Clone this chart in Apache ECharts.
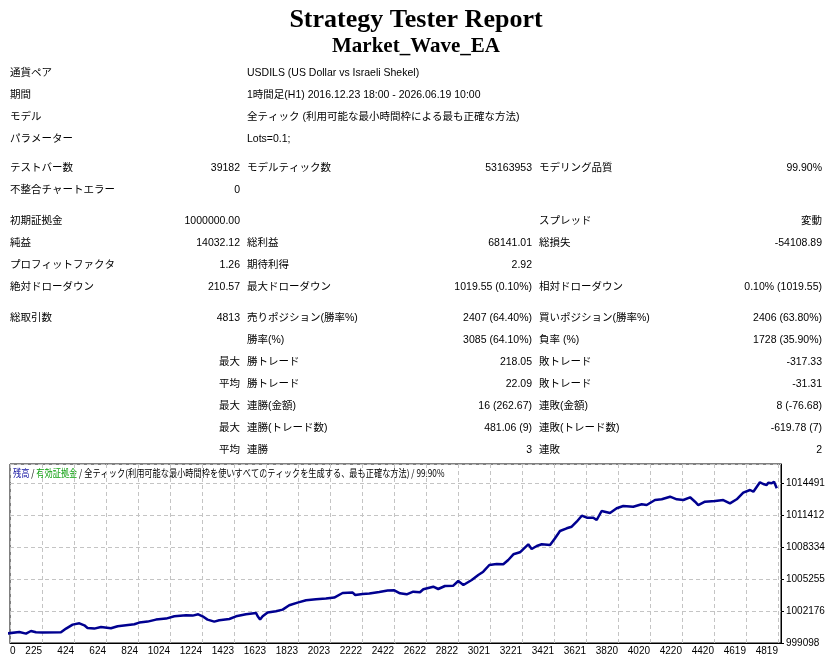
<!DOCTYPE html>
<html><head><meta charset="utf-8">
<script src="https://cdn.jsdelivr.net/npm/echarts@6/dist/echarts.min.js"></script>
<style>html,body{margin:0;padding:0;background:#fff}#c{width:832px;height:664px}</style>
</head><body><div id="c"></div>
<script>
// ---------- data ----------
const reportTitle = 'Strategy Tester Report';
const expertName = 'Market_Wave_EA';
const infoLabels = ['通貨ペア', '期間', 'モデル', 'パラメーター'];
const infoValues = ['USDILS (US Dollar vs Israeli Shekel)', '1時間足(H1) 2016.12.23 18:00 - 2026.06.19 10:00', '全ティック (利用可能な最小時間枠による最も正確な方法)', 'Lots=0.1;'];
const statRows = [
  ['テストバー数', '39182', 'モデルティック数', '53163953', 'モデリング品質', '99.90%'],
  ['不整合チャートエラー', '0', '', '', '', ''],
  ['初期証拠金', '1000000.00', '', '', 'スプレッド', '変動'],
  ['純益', '14032.12', '総利益', '68141.01', '総損失', '-54108.89'],
  ['プロフィットファクタ', '1.26', '期待利得', '2.92', '', ''],
  ['絶対ドローダウン', '210.57', '最大ドローダウン', '1019.55 (0.10%)', '相対ドローダウン', '0.10% (1019.55)'],
  ['総取引数', '4813', '売りポジション(勝率%)', '2407 (64.40%)', '買いポジション(勝率%)', '2406 (63.80%)'],
  ['', '', '勝率(%)', '3085 (64.10%)', '負率 (%)', '1728 (35.90%)'],
  ['', '最大', '勝トレード', '218.05', '敗トレード', '-317.33'],
  ['', '平均', '勝トレード', '22.09', '敗トレード', '-31.31'],
  ['', '最大', '連勝(金額)', '16 (262.67)', '連敗(金額)', '8 (-76.68)'],
  ['', '最大', '連勝(トレード数)', '481.06 (9)', '連敗(トレード数)', '-619.78 (7)'],
  ['', '平均', '連勝', '3', '連敗', '2']
];
const legendBalance = '残高';
const legendEquity = '有効証拠金';
const legendModel = '全ティック(利用可能な最小時間枠を使いすべてのティックを生成する、最も正確な方法)';
const legendQuality = '99.90%';
const xTickLabels = ['0','225','424','624','824','1024','1224','1423','1623','1823','2023','2222','2422','2622','2822','3021','3221','3421','3621','3820','4020','4220','4420','4619','4819'];
const yTickLabels = ['999098','1002176','1005255','1008334','1011412','1014491'];
const tradeNo = [0,83,125,156,187,228,343,375,416,458,489,509,551,593,655,697,749,801,832,884,936,999,1051,1124,1165,1200,1227,1258,1300,1331,1394,1436,1498,1561,1571,1586,1602,1633,1685,1727,1768,1820,1873,1935,1997,2007,2049,2101,2164,2180,2226,2268,2330,2382,2424,
  2459,2501,2542,2584,2605,2667,2698,2740,2792,2823,2855,2907,2948,2979,3017,3063,3104,3135,3167,3208,3260,3281,3313,3344,3396,3427,3458,3500,3531,3562,3594,3625,3666,3687,3718,3770,3812,3853,3915,3968,3999,4051,4093,4145,4187,4228,4270,4301,4321,4363,4426,4477,4519,4561,4602,4644,4665,4706,4727,4748,4758,4779,4794,4811,4813];
const balance = [1000000,1000156,1000002,1000253,1000128,1000099,1000128,1000484,1000868,1000993,1000801,1000541,1000484,1000637,1000512,1000705,1000801,1000897,1001061,1001157,1001349,1001445,1001667,1001763,1001734,1001859,1001667,1001349,1001157,1001282,1001407,1001667,1001859,1001984,1001667,1001349,1001667,1002023,1002148,1002311,1002725,1002985,1003206,1003302,1003370,1003206,1003466,1003908,1003947,1003716,1003812,1003851,1004005,1004139,1004168,
  1003879,1003783,1004033,1003976,1004264,1004514,1004293,1004582,1004611,1005063,1004678,1005159,1005640,1005958,1006602,1006698,1006669,1007083,1007631,1007824,1008594,1008141,1008430,1008594,1008526,1009171,1009873,1010133,1010287,1010768,1011345,1011153,1011153,1010931,1011797,1011605,1012057,1012278,1012211,1012442,1012374,1012855,1012923,1013173,1012923,1012855,1013115,1012692,1012374,1012692,1012759,1012855,1012538,1012923,1013558,1013818,1013654,1014559,1014395,1014299,1014520,1014462,1014616,1013981,1014032.12];

// ---------- axis scale (offsets so that min is a multiple of the interval) ----------
const X_ORIGIN = 25, X_STEP = 199.74;
const Y_ORIGIN = 999098.3, Y_STEP = 3078.6;

// ---------- layout / style ----------
const FONT = "'Liberation Sans', 'Noto Sans CJK JP', sans-serif";
const CJK = "'Noto Sans CJK JP', 'Liberation Sans', sans-serif";
const FS = 10.5;
function txt(x, y, s, align, extra) {
  const st = Object.assign({ x: x, y: y, text: s, fill: '#000', fontSize: FS, fontFamily: FONT,
    align: align, textAlign: align, verticalAlign: 'middle', textVerticalAlign: 'middle' }, extra || {});
  return { type: 'text', silent: true, style: st };
}
const graphics = [];
graphics.push(txt(416, 20, reportTitle, 'center', { fontSize: 26, fontWeight: 'bold', fontFamily: "'Liberation Serif', 'Times New Roman', serif" }));
graphics.push(txt(416, 47, expertName, 'center', { fontSize: 21, fontWeight: 'bold', fontFamily: "'Liberation Serif', 'Times New Roman', serif" }));
const infoY = [73, 95, 117, 139];
infoLabels.forEach((l, i) => { graphics.push(txt(10, infoY[i], l, 'left')); graphics.push(txt(247, infoY[i], infoValues[i], 'left')); });
const statY = [168, 190, 221, 243, 265, 287, 318, 340, 362, 384, 406, 428, 450];
const colX = [10, 240, 247, 532, 539, 822];
const colAlign = ['left', 'right', 'left', 'right', 'left', 'right'];
statRows.forEach((row, i) => {
  row.forEach((cell, j) => { if (cell) graphics.push(txt(colX[j], statY[i], cell, colAlign[j])); });
});
// chart caption (legend line)
graphics.push({ type: 'text', silent: true, x: 13, y: 473, scaleX: 0.82, scaleY: 1, style: {
  x: 0, y: 0, align: 'left', textAlign: 'left', verticalAlign: 'middle', textVerticalAlign: 'middle',
  text: '{b|' + legendBalance + '}{s| / }{g|' + legendEquity + '}{s| / ' + legendModel + ' / ' + legendQuality + '}',
  fontSize: 10, fontFamily: CJK, fill: '#000',
  rich: {
    b: { fill: '#1010a0', fontSize: 10, fontFamily: CJK },
    g: { fill: '#10a010', fontSize: 10, fontFamily: CJK },
    s: { fill: '#000', fontSize: 10, fontFamily: CJK }
  } } });

const seriesData = tradeNo.map((t, i) => [t - X_ORIGIN, balance[i] - Y_ORIGIN]);

const chart = echarts.init(document.getElementById('c'), null, { renderer: 'canvas' });
chart.setOption({
  animation: false,
  backgroundColor: '#fff',
  graphic: graphics,
  grid: { left: 10, top: 464, width: 771, height: 179, show: true, borderColor: '#000', borderWidth: 1, containLabel: false },
  xAxis: {
    type: 'value', min: 0, max: 4812.5, interval: X_STEP,
    axisLine: { show: true, onZero: false, lineStyle: { color: '#000', width: 1 } },
    axisTick: { show: false },
    splitLine: { show: true, lineStyle: { color: '#c4c4c4', type: [4, 3], width: 1 } },
    axisLabel: {
      color: '#000', fontSize: 10, fontFamily: FONT, margin: 3, align: 'right', alignMinLabel: 'left',
      showMaxLabel: false, hideOverlap: false,
      formatter: function (v) { const k = Math.round(v / X_STEP); return Math.abs(v - k * X_STEP) < 1 && xTickLabels[k] !== undefined ? xTickLabels[k] : ''; }
    }
  },
  yAxis: {
    type: 'value', position: 'right', min: 0, max: 17220.7, interval: Y_STEP,
    axisLine: { show: true, onZero: false, lineStyle: { color: '#000', width: 1 } },
    axisTick: { show: true, length: 3, lineStyle: { color: '#000' } },
    splitLine: { show: true, lineStyle: { color: '#c4c4c4', type: [4, 3], width: 1 } },
    axisLabel: {
      color: '#000', fontSize: 10, fontFamily: FONT, margin: 5, showMaxLabel: false,
      formatter: function (v) { const k = Math.round(v / Y_STEP); return Math.abs(v - k * Y_STEP) < 1 && yTickLabels[k] !== undefined ? yTickLabels[k] : ''; }
    }
  },
  series: [{
    type: 'line', data: seriesData, showSymbol: false, symbol: 'none', clip: true,
    lineStyle: { color: '#000090', width: 2.5 }
  }]
});
</script></body></html>
